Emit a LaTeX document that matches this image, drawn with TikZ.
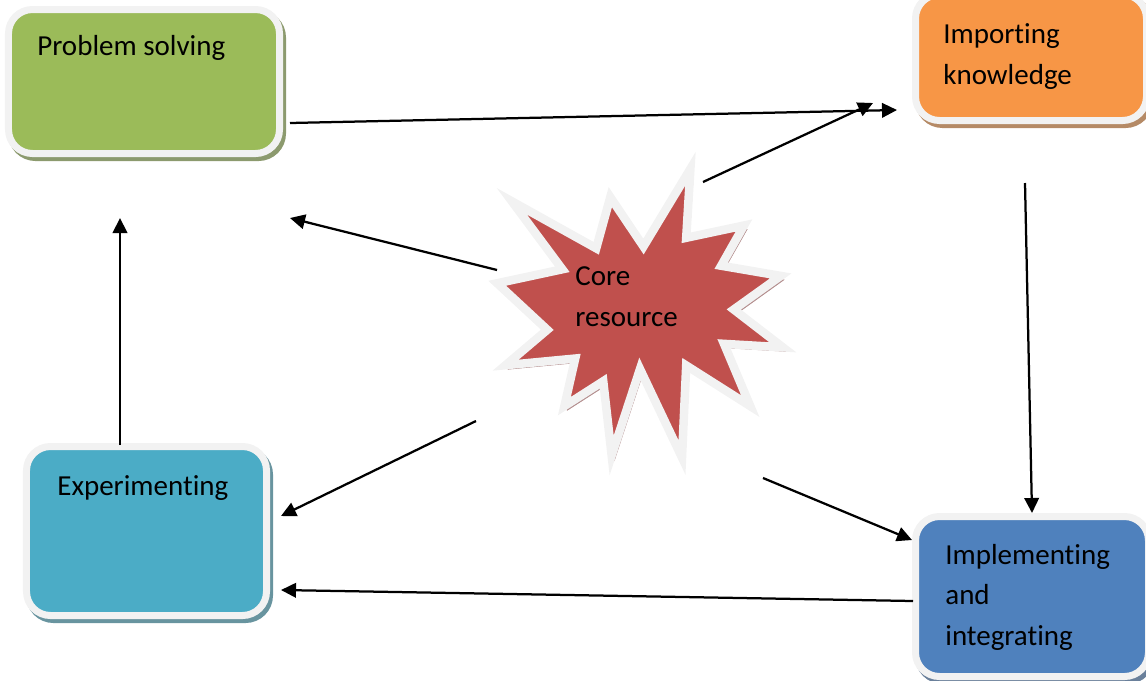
\documentclass[tikz,border=0pt]{standalone}
\usepackage{fontspec}
\setmainfont{Carlito}[Ligatures=NoCommon]
\usetikzlibrary{arrows.meta,positioning}

\definecolor{rim}{HTML}{F2F2F2}
\definecolor{psgreen}{HTML}{9BBB59}
\definecolor{ikorange}{HTML}{F79646}
\definecolor{exteal}{HTML}{4BACC6}
\definecolor{iiblue}{HTML}{4F81BD}
\definecolor{corered}{HTML}{C0504D}
\definecolor{coreshadow}{RGB}{178,140,140}

\begin{document}
\begin{tikzpicture}[x=0.2mm, y=-0.2mm,
		box/.style={rounded corners=4.8mm, draw=rim, line width=1.4mm, fill=#1, inner sep=0pt,
			preaction={draw=#1!45!gray, fill=#1!45!gray, transform canvas={xshift=0.6mm, yshift=-0.8mm}}},
		burst/.style={draw=rim, line width=1.7mm, fill=corered,
			preaction={draw=coreshadow, fill=coreshadow, transform canvas={xshift=0.6mm, yshift=-0.8mm}}},
		txt/.style={anchor=base west, align=left, inner sep=0pt, font=\fontsize{16.5}{22.8}\selectfont},
		arr/.style={-{Triangle[length=3mm,width=2.9mm]}, line width=0.45mm}]
	\useasboundingbox (0,0) rectangle (1146,680);

	\node[box=psgreen, minimum width=54.2mm, minimum height=28.8mm] (ps) at (144,81.5) {};
	\node[box=ikorange, minimum width=46.2mm, minimum height=25.2mm] (ik) at (1031,57.5) {};
	\node[box=exteal, minimum width=48mm, minimum height=33.8mm] (ex) at (146.5,531) {};
	\node[box=iiblue, minimum width=46.6mm, minimum height=32mm] (ii) at (1032,596.5) {};

	% explosion in the middle
	\draw[burst, scale around={1.05:(640,320)}] (518,207) -- (598.3,251.7) -- (611.7,203) -- (643.3,250) -- (688,176)
		-- (684,241.7) -- (739,230) -- (717.3,268.3) -- (774,278) -- (729.3,310)
		-- (776,346) -- (720,342.7) -- (745,402) -- (684,363.3) -- (680,451)
		-- (640,366.7) -- (613,449) -- (605,378.3) -- (568,402) -- (578.3,356.7)
		-- (512,363) -- (551.7,329.3) -- (504,285) -- (566,271.7) -- cycle;

	% text sits on the last line's baseline
	\node[txt] (ps text) at (37,55) {Problem solving};
	\node[txt] (ik text) at (943,84) {Importing\\knowledge};
	\node[txt] (ex text) at (57,495) {Experimenting};
	\node[txt] (ii text) at (945,645) {Implementing\\and\\integrating};
	\node[txt] (core) at (575,326) {Core\\resource};

	\coordinate (ps out) at (290,123);
	\coordinate (ik in) at (897,110);
	\coordinate (core ne) at (703,182);
	\coordinate (ik in2) at (873,103);
	\coordinate (core w) at (497,270);
	\coordinate (ps below) at (290,218);
	\coordinate (ik out) at (1025,183);
	\coordinate (core se) at (763,478);
	\coordinate (ii in) at (912,540);
	\coordinate (ii out) at (913,601);
	\coordinate (ex in) at (281,590);
	\coordinate (core sw) at (476,421);
	\coordinate (ex in2) at (281,516);
	\coordinate (ex out) at (120,445);
	\coordinate (ps in) at (120,218);

	\path[arr]
	(ps out) edge (ik in)
	(core ne) edge (ik in2)
	(core w) edge (ps below)
	(ik out) edge (ii.north)
	(core se) edge (ii in)
	(ii out) edge (ex in)
	(core sw) edge (ex in2)
	(ex out) edge (ps in)
	;
\end{tikzpicture}
\end{document}
